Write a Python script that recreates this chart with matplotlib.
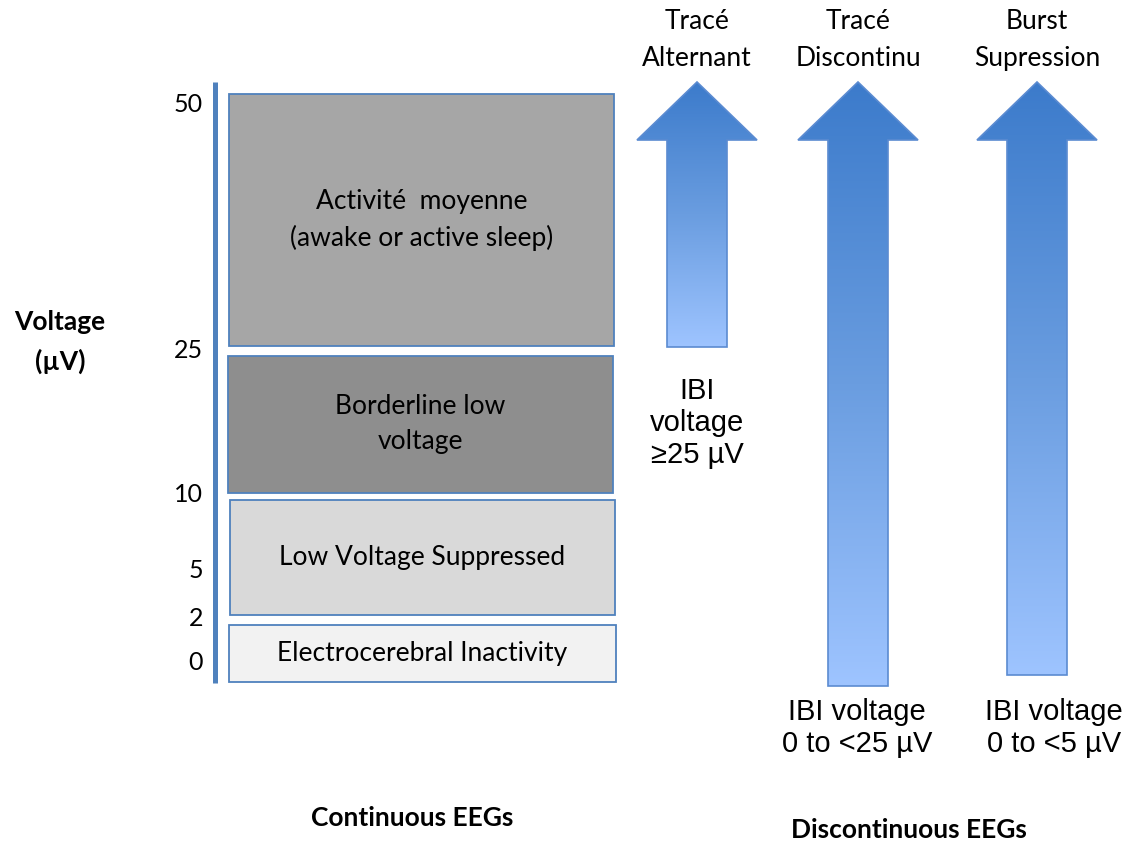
import numpy as np
import matplotlib.pyplot as plt
from matplotlib.patches import Rectangle, Polygon
from matplotlib.colors import LinearSegmentedColormap

# voltage scale (µV) and where each tick sits on the canvas
tick_values = [0, 2, 5, 10, 25, 50]
tick_rows = [663, 618, 571, 494, 350, 105]

# continuous EEG bands
box_labels = ["Activité  moyenne\n(awake or active sleep)",
              "Borderline low\nvoltage",
              "Low Voltage Suppressed",
              "Electrocerebral Inactivity"]
box_fills = ["#a6a6a6", "#8e8e8e", "#d9d9d9", "#f2f2f2"]
box_top = [94, 356, 500, 625]
box_bottom = [346, 493, 615, 682]
box_left = [229, 228, 230, 229]
box_right = [614, 613, 615, 616]

# discontinuous EEG patterns
arrow_names = ["Tracé\nAlternant", "Tracé\nDiscontinu", "Burst\nSupression"]
arrow_ibi = ["IBI\nvoltage\n≥25 µV", "IBI voltage\n0 to <25 µV", "IBI voltage\n0 to <5 µV"]
arrow_cx = [697, 858, 1037]
arrow_bottom = [347, 686, 675]
ibi_x = [697, 857, 1054]
ibi_y = [423, 728, 728]

calibri = "Lato"
arial = "Liberation Sans"
edge = "#4f81bd"

fig = plt.figure(figsize=(11.3, 8.51), dpi=100)
ax = fig.add_axes([0, 0, 1, 1])

# scale line and tick labels
ax.plot([215, 215], [82, 683], color="#4f81bd", lw=3.6, solid_capstyle="butt")
for v, r in zip(tick_values, tick_rows):
    ax.text(203, r, str(v), ha="right", va="center", fontsize=18, family=calibri)

ax.text(60, 342, "Voltage\n(µV)", ha="center", va="center", fontsize=19,
        fontweight="bold", family=calibri, linespacing=1.7)

for lab, fc, t, b, l, r in zip(box_labels, box_fills, box_top, box_bottom, box_left, box_right):
    ax.add_patch(Rectangle((l, t), r - l, b - t, facecolor=fc, edgecolor=edge, lw=1.3))
    ax.text((l + r) / 2, (t + b) / 2, lab,
            ha="center", va="center", fontsize=19, family=calibri, linespacing=1.5)

cmap = LinearSegmentedColormap.from_list("arr", ["#3c7bcb", "#6a9de0", "#9ec4ff"])
grad = np.linspace(0, 1, 256).reshape(-1, 1)
tip, base, hw, sw = 82, 140, 60, 30
for name, cx, bot in zip(arrow_names, arrow_cx, arrow_bottom):
    pts = [(cx, tip), (cx + hw, base), (cx + sw, base), (cx + sw, bot),
           (cx - sw, bot), (cx - sw, base), (cx - hw, base)]
    poly = Polygon(pts, closed=True, facecolor="none", edgecolor="#5b8bd1", lw=1.2, zorder=3)
    ax.add_patch(poly)
    im = ax.imshow(grad, cmap=cmap, aspect="auto", origin="upper",
                   extent=(cx - hw, cx + hw, bot, tip), zorder=2)
    im.set_clip_path(poly)
    ax.text(cx, 40, name, ha="center", va="center", fontsize=19, family=calibri, linespacing=1.6)

for lab, x, y in zip(arrow_ibi, ibi_x, ibi_y):
    ax.text(x, y, lab, ha="center", va="center", fontsize=21, family=arial, linespacing=1.2)

ax.text(412, 818, "Continuous EEGs", ha="center", va="center", fontsize=19,
        fontweight="bold", family=calibri)
ax.text(909, 830, "Discontinuous EEGs", ha="center", va="center", fontsize=19,
        fontweight="bold", family=calibri)

ax.set_xlim(0, 1130)
ax.set_ylim(851, 0)
ax.axis("off")
fig.savefig("out.png", dpi=100)
